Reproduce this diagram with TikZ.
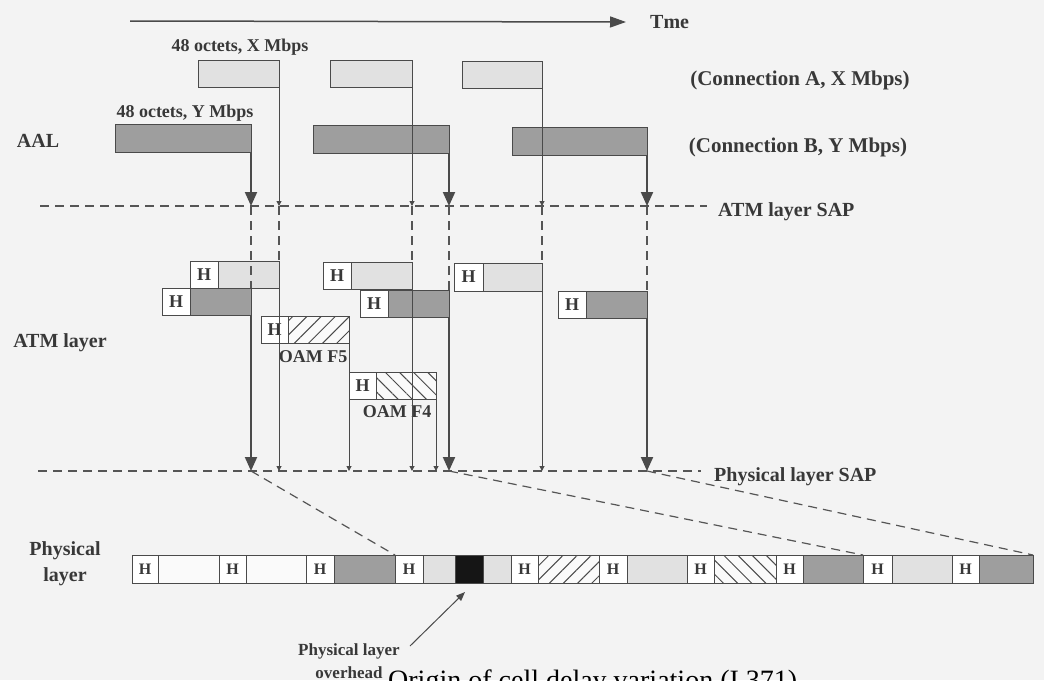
\documentclass[tikz,border=0pt]{standalone}
\usepackage{fontspec}
\setmainfont{Liberation Serif}
\usetikzlibrary{arrows.meta,patterns.meta}
\definecolor{bg}{HTML}{F3F3F3}
\definecolor{ink}{HTML}{383838}
\definecolor{ln}{HTML}{4A4A4A}
\definecolor{lightc}{HTML}{E1E1E1}
\definecolor{darkc}{HTML}{9E9E9E}
\definecolor{blackc}{HTML}{151515}
\definecolor{dashc}{HTML}{555555}
\definecolor{whitec}{HTML}{FAFAFA}
\tikzset{
 span/.style n args={4}{anchor=north west, minimum width={(#3-#1)*1pt}, minimum height={(#4-#2)*1pt}, at={(#1,#2)}},
 cellbase/.style={draw=ln, line width=1pt, rectangle, inner sep=0pt, outer sep=0pt},
 lightcell/.style={cellbase, fill=lightc},
 darkcell/.style={cellbase, fill=darkc},
 whitecell/.style={cellbase, fill=whitec},
 blackcell/.style={cellbase, fill=blackc},
 hcell/.style={cellbase, fill=white, text=ink, font=\bfseries\fontsize{18}{18}\selectfont},
 phcell/.style={hcell, font=\bfseries\fontsize{16}{16}\selectfont},
 hatchne/.style={cellbase, preaction={fill=whitec}, pattern={Lines[angle=45,distance=10pt,line width=1pt]}, pattern color=ln},
 hatchnw/.style={cellbase, preaction={fill=whitec}, pattern={Lines[angle=-45,distance=10pt,line width=1pt]}, pattern color=ln},
 lbl/.style={text=ink, inner sep=0pt, font=\bfseries\fontsize{20}{22}\selectfont},
 biglbl/.style={lbl, font=\bfseries\fontsize{21}{23}\selectfont},
 smalllbl/.style={lbl, font=\bfseries\fontsize{18}{19}\selectfont},
 sap/.style={draw=dashc, line width=1.2pt, dash pattern=on 9pt off 6pt},
 thinflow/.style={draw=ln, line width=1pt, -{Triangle[width=5pt,length=5pt]}},
 thickflow/.style={draw=ln, line width=2pt, -{Triangle[width=12pt,length=14pt]}},
 timeflow/.style={draw=ln, line width=1.5pt, -{Triangle[width=11pt,length=16pt]}},
 pointer/.style={draw=ln, line width=1pt, -{Triangle[width=7pt,length=9pt]}},
}
\begin{document}
\begin{tikzpicture}[x=1pt,y=-1pt]
\useasboundingbox (0,0) rectangle (1044,680);
\clip (0,0) rectangle (1044,680);
\fill[bg] (0,0) rectangle (1044,680);

% caption (cut off by the picture edge, as in the reference)
\node[anchor=base west, inner sep=0pt, text=black, font=\fontsize{28}{32}\selectfont] (caption) at (388,689) {Origin of cell delay variation (I.371)};

% time axis
\coordinate (t0) at (130,21);
\node[lbl, anchor=west] (tme) at (650,22) {Tme};
\draw[timeflow] (t0) -- ([xshift=-24pt]tme.west);

% AAL cells
\node[lightcell, span={198}{60}{279}{87}] (a1) {};
\node[lightcell, span={330}{60}{412}{87}] (a2) {};
\node[lightcell, span={462}{61}{542}{88}] (a3) {};
\node[darkcell, span={115}{124}{251}{152}] (b1) {};
\node[darkcell, span={313}{125}{449}{153}] (b2) {};
\node[darkcell, span={512}{127}{647}{155}] (b3) {};

\node[smalllbl] (xlab) at (240,47) {48 octets, X Mbps};
\node[smalllbl] (ylab) at (185,113) {48 octets, Y Mbps};
\node[biglbl] (conA) at (800,80) {(Connection A, X Mbps)};
\node[biglbl] (conB) at (798,147) {(Connection B, Y Mbps)};
\node[lbl] (aal) at (38,141) {AAL};

% SAP lines
\node[lbl, anchor=west] (atmsap) at (718,212) {ATM layer SAP};
\coordinate (atmL) at (40,206);
\coordinate (atmR) at (707,206);
\draw[sap] (atmL) -- (atmR);
\node[lbl, anchor=west] (physap) at (714,477) {Physical layer SAP};
\coordinate (phyL) at (38,471);
\coordinate (phyR) at (701,471);
\draw[sap] (phyL) -- (phyR);

\node[lbl] (atmlayer) at (60,343) {ATM layer};

% ATM layer cells
\node[hcell, span={190}{261}{218}{288}] (a1h) {H};
\node[lightcell, span={218}{261}{279}{288}] (a1p) {};
\node[hcell, span={162}{288}{190}{315}] (b1h) {H};
\node[darkcell, span={190}{288}{251}{315}] (b1p) {};
\node[hcell, span={261}{316}{288}{343}] (f5h) {H};
\node[hatchne, span={288}{316}{349}{343}] (f5p) {};
\node[smalllbl] (f5lab) at (313,357) {OAM F5};
\node[hcell, span={323}{262}{351}{289}] (a2h) {H};
\node[lightcell, span={351}{262}{412}{289}] (a2p) {};
\node[hcell, span={360}{290}{388}{317}] (b2h) {H};
\node[darkcell, span={388}{290}{449}{317}] (b2p) {};
\node[hcell, span={349}{372}{376}{399}] (f4h) {H};
\node[hatchnw, span={376}{372}{436}{399}] (f4p) {};
\node[smalllbl] (f4lab) at (397,412) {OAM F4};
\node[hcell, span={454}{263}{483}{291}] (a3h) {H};
\node[lightcell, span={483}{263}{542}{291}] (a3p) {};
\node[hcell, span={558}{291}{586}{318}] (b3h) {H};
\node[darkcell, span={586}{291}{647}{318}] (b3p) {};

% flows AAL -> ATM SAP
\draw[thickflow] (b1.south east) -- (b1.south east |- atmL);
\draw[thinflow] (a1.south east) -- (a1.south east |- atmL);
\draw[thinflow] (a2.south east) -- (a2.south east |- atmL);
\draw[thickflow] (b2.south east) -- (b2.south east |- atmL);
\draw[thinflow] (a3.south east) -- (a3.south east |- atmL);
\draw[thickflow] (b3.south east) -- (b3.south east |- atmL);

% ATM SAP -> ATM cells
\draw[sap] (b1.south east |- atmL) -- (b1p.north east);
\draw[sap] (a1.south east |- atmL) -- (a1p.north east);
\draw[sap] (a2.south east |- atmL) -- (a2p.north east);
\draw[sap] (b2.south east |- atmL) -- (b2p.north east);
\draw[sap] (a3.south east |- atmL) -- (a3p.north east);
\draw[sap] (b3.south east |- atmL) -- (b3p.north east);

% ATM cells -> physical SAP
\draw[thickflow] (b1p.south east) -- (b1p.south east |- phyL);
\draw[thinflow] (a1p.south east) -- (a1p.south east |- phyL);
\draw[thinflow] (f5p.south east) -- (f5p.south east |- phyL);
\draw[thinflow] (a2p.south east) -- (a2p.south east |- phyL);
\draw[thinflow] (f4p.south east) -- (f4p.south east |- phyL);
\draw[thickflow] (b2p.south east) -- (b2p.south east |- phyL);
\draw[thinflow] (a3p.south east) -- (a3p.south east |- phyL);
\draw[thickflow] (b3p.south east) -- (b3p.south east |- phyL);

% physical layer row
\node[lbl, align=center, font=\bfseries\fontsize{20}{26}\selectfont] (phylab) at (65,564) {Physical\\layer};
\node[phcell, span={132}{555}{158}{583}] (p1) {H};
\node[whitecell, span={158}{555}{219}{583}] (p2) {};
\node[phcell, span={219}{555}{246}{583}] (p3) {H};
\node[whitecell, span={246}{555}{306}{583}] (p4) {};
\node[phcell, span={306}{555}{334}{583}] (p5) {H};
\node[darkcell, span={334}{555}{395}{583}] (pd1) {};
\node[phcell, span={395}{555}{423}{583}] (p7) {H};
\node[lightcell, span={423}{555}{455}{583}] (p8) {};
\node[blackcell, span={455}{555}{483}{583}] (pk) {};
\node[lightcell, span={483}{555}{511}{583}] (p10) {};
\node[phcell, span={511}{555}{538}{583}] (p11) {H};
\node[hatchne, span={538}{555}{599}{583}] (p12) {};
\node[phcell, span={599}{555}{627}{583}] (p13) {H};
\node[lightcell, span={627}{555}{687}{583}] (p14) {};
\node[phcell, span={687}{555}{714}{583}] (p15) {H};
\node[hatchnw, span={714}{555}{776}{583}] (p16) {};
\node[phcell, span={776}{555}{803}{583}] (p17) {H};
\node[darkcell, span={803}{555}{863}{583}] (pd2) {};
\node[phcell, span={863}{555}{892}{583}] (p19) {H};
\node[lightcell, span={892}{555}{952}{583}] (p20) {};
\node[phcell, span={952}{555}{979}{583}] (p21) {H};
\node[darkcell, span={979}{555}{1033}{583}] (pd3) {};

% zoom lines
\draw[sap] (b1p.south east |- phyL) -- (pd1.north east);
\draw[sap] (b2p.south east |- phyL) -- (pd2.north east);
\draw[sap] (b3p.south east |- phyL) -- (pd3.north east);

% overhead pointer
\node[lbl, align=center, font=\bfseries\fontsize{17}{23}\selectfont] (ovh) at (349,661) {Physical layer\\overhead};
\coordinate (ptail) at (410,646);
\draw[pointer] (ptail) -- ([xshift=-4pt,yshift=-9pt]pk.south);
\end{tikzpicture}
\end{document}
